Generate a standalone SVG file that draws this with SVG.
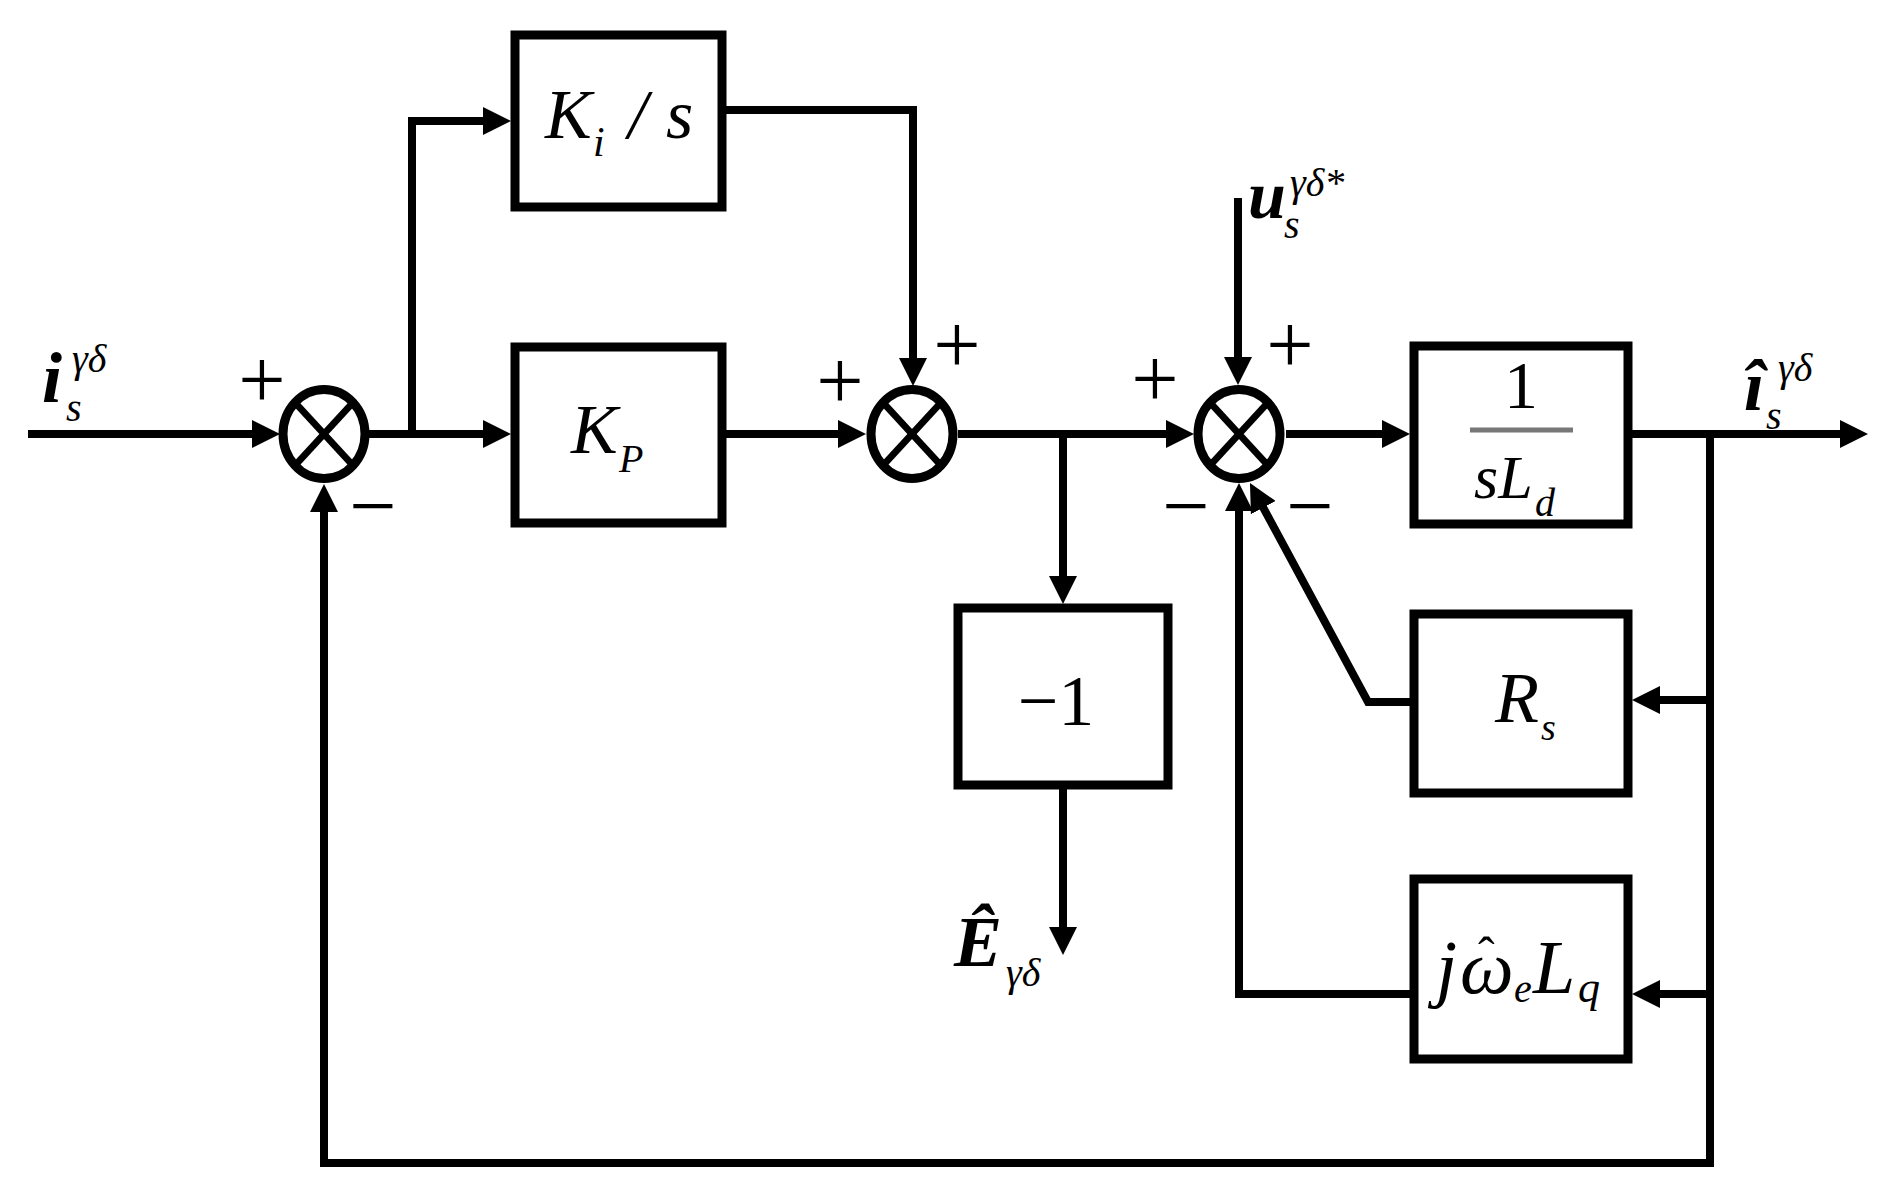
<svg xmlns="http://www.w3.org/2000/svg" width="1891" height="1191" viewBox="0 0 1891 1191">
<style>
  .ln{fill:none;stroke:#000;stroke-width:8;stroke-linecap:butt;stroke-linejoin:miter}
  .box{fill:#fff;stroke:#000;stroke-width:9}
  .sum{fill:#fff;stroke:#000;stroke-width:9}
  .x{stroke:#000;stroke-width:7}
  .t{font-family:"Liberation Serif","Times New Roman",serif;fill:#000}
  .it{font-style:italic}
  .bi{font-style:italic;font-weight:bold}
  .sg{font-family:"Liberation Serif","Times New Roman",serif;font-size:84px;fill:#000;text-anchor:middle}
</style>
<defs>
  <marker id="arr" markerUnits="userSpaceOnUse" markerWidth="28" markerHeight="28" refX="18" refY="14" orient="auto">
    <path d="M0,0 L28,14 L0,28 Z" fill="#000"/>
  </marker>
</defs>
<rect width="1891" height="1191" fill="#fff"/>

<g id="connectors">
  <path class="ln" d="M28,434 H270" marker-end="url(#arr)"/>
  <path class="ln" d="M369,434 H501" marker-end="url(#arr)"/>
  <path class="ln" d="M412,434 V121 H501" marker-end="url(#arr)"/>
  <path class="ln" d="M726,110 H913 V376" marker-end="url(#arr)"/>
  <path class="ln" d="M726,434 H856" marker-end="url(#arr)"/>
  <path class="ln" d="M958,434 H1184" marker-end="url(#arr)"/>
  <path class="ln" d="M1063,434 V594" marker-end="url(#arr)"/>
  <path class="ln" d="M1063,789 V945" marker-end="url(#arr)"/>
  <path class="ln" d="M1238,198 V375" marker-end="url(#arr)"/>
  <path class="ln" d="M1286,434 H1400" marker-end="url(#arr)"/>
  <path class="ln" d="M1632,434 H1858" marker-end="url(#arr)"/>
  <path class="ln" d="M1710,434 V1163 H324 V494" marker-end="url(#arr)"/>
  <path class="ln" d="M1710,700 H1642" marker-end="url(#arr)"/>
  <path class="ln" d="M1710,994 H1642" marker-end="url(#arr)"/>
  <path class="ln" d="M1410,702 H1368 L1254.7,491.8" marker-end="url(#arr)"/>
  <path class="ln" d="M1410,994 H1239 V493" marker-end="url(#arr)"/>
</g>

<g id="sum1">
  <ellipse class="sum" cx="324" cy="434" rx="41" ry="44.5"/>
  <line class="x" x1="295" y1="402.5" x2="353" y2="465.5"/>
  <line class="x" x1="353" y1="402.5" x2="295" y2="465.5"/>
  <text class="sg" x="262" y="408">+</text>
  <text class="sg" x="373" y="534">−</text>
</g>

<g id="ki">
  <rect class="box" x="515" y="35" width="207" height="172"/>
  <text class="t it" font-size="70"><tspan x="545" y="138">K</tspan><tspan x="593" y="156" font-size="42">i</tspan><tspan x="628" y="138">/</tspan><tspan x="666" y="138">s</tspan></text>
</g>

<g id="kp">
  <rect class="box" x="515" y="347" width="207" height="176"/>
  <text class="t it" font-size="70"><tspan x="571" y="453">K</tspan><tspan x="619" y="472" font-size="40">P</tspan></text>
</g>

<g id="sum2">
  <ellipse class="sum" cx="912" cy="434" rx="41" ry="44.5"/>
  <line class="x" x1="883" y1="402.5" x2="941" y2="465.5"/>
  <line class="x" x1="941" y1="402.5" x2="883" y2="465.5"/>
  <text class="sg" x="840" y="409">+</text>
  <text class="sg" x="957" y="373">+</text>
</g>

<g id="neg1">
  <rect class="box" x="958" y="608" width="210" height="177"/>
  <text class="t" font-size="72" x="1056" y="725" text-anchor="middle">−1</text>
</g>

<g id="out-e">
  <text class="t bi" font-size="72" x="954" y="966">Ê</text>
  <text class="t it" font-size="40" x="1006" y="986">γδ</text>
</g>

<g id="sum3">
  <ellipse class="sum" cx="1239" cy="434" rx="41" ry="44.5"/>
  <line class="x" x1="1210" y1="402.5" x2="1268" y2="465.5"/>
  <line class="x" x1="1268" y1="402.5" x2="1210" y2="465.5"/>
  <text class="sg" x="1155" y="407">+</text>
  <text class="sg" x="1290" y="373">+</text>
  <text class="sg" x="1186" y="534">−</text>
  <text class="sg" x="1310" y="534">−</text>
</g>

<g id="in-u">
  <text class="t bi" font-size="68" x="1248" y="218">u</text>
  <text class="t it" font-size="40" x="1290" y="196">γδ*</text>
  <text class="t it" font-size="40" x="1284" y="238">s</text>
</g>

<g id="in-i">
  <text class="t bi" font-size="72" x="42" y="402">i</text>
  <text class="t it" font-size="40" x="72" y="372">γδ</text>
  <text class="t it" font-size="40" x="66" y="421">s</text>
</g>

<g id="plant">
  <rect class="box" x="1414" y="346" width="214" height="178"/>
  <text class="t" font-size="68" x="1521" y="408" text-anchor="middle">1</text>
  <line x1="1470" y1="430" x2="1573" y2="430" stroke="#777" stroke-width="5"/>
  <text class="t it" font-size="62"><tspan x="1474" y="498">sL</tspan><tspan x="1535" y="516" font-size="40">d</tspan></text>
</g>

<g id="out-i">
  <text class="t bi" font-size="72" x="1744" y="410">i&#x302;</text>
  <text class="t it" font-size="40" x="1778" y="381">γδ</text>
  <text class="t it" font-size="40" x="1766" y="429">s</text>
</g>

<g id="rs">
  <rect class="box" x="1414" y="614" width="214" height="179"/>
  <text class="t it" font-size="72"><tspan x="1495" y="722">R</tspan><tspan x="1541" y="740" font-size="38">s</tspan></text>
</g>

<g id="jwlq">
  <rect class="box" x="1414" y="879" width="214" height="180"/>
  <text class="t it" font-size="76"><tspan x="1436" y="993">j</tspan><tspan x="1460" y="993">ω</tspan><tspan x="1478" y="972" font-size="50" font-style="normal">ˆ</tspan><tspan x="1514" y="1002" font-size="40">e</tspan><tspan x="1533" y="993">L</tspan><tspan x="1578" y="1002" font-size="44">q</tspan></text>
</g>
</svg>
